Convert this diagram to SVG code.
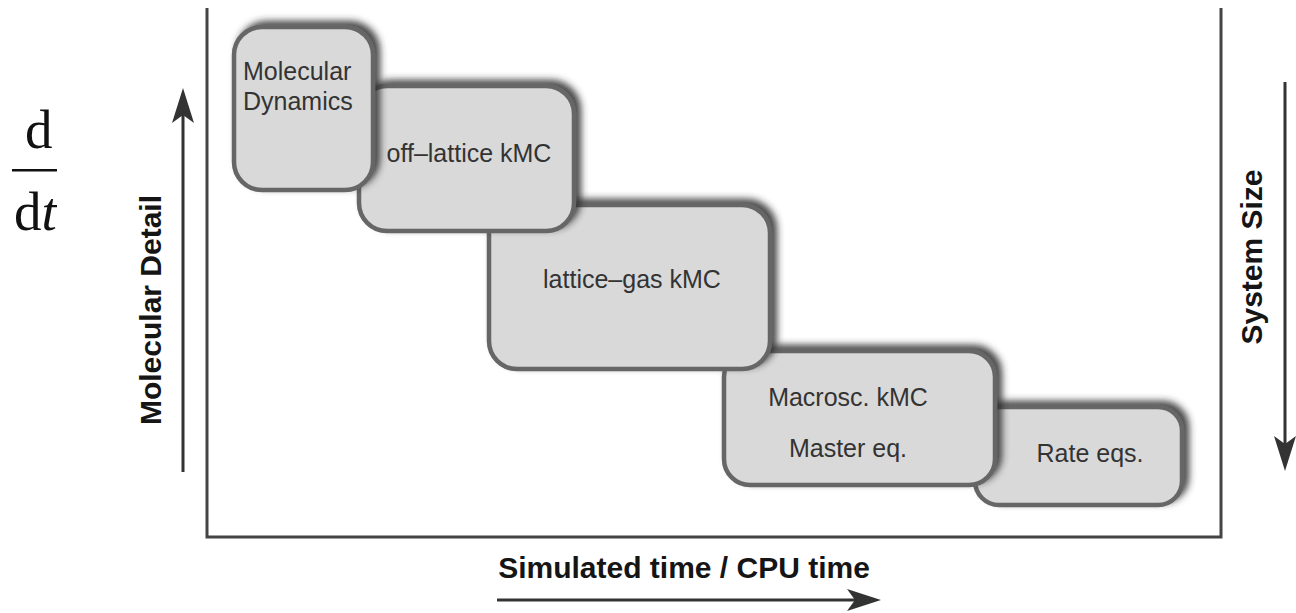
<svg xmlns="http://www.w3.org/2000/svg" width="1296" height="613" viewBox="0 0 1296 613">
<defs>
<filter id="sh" x="-20%" y="-20%" width="140%" height="140%">
<feOffset in="SourceAlpha" dx="5" dy="-4" result="o"/>
<feGaussianBlur in="o" stdDeviation="3.5" result="b"/>
<feFlood flood-color="#2a2a2a" flood-opacity="0.85"/>
<feComposite in2="b" operator="in" result="s"/>
<feMerge><feMergeNode in="s"/><feMergeNode in="SourceGraphic"/></feMerge>
</filter>
<clipPath id="edge"><rect x="0" y="0" width="57" height="613"/></clipPath>
</defs>
<style>
.box{fill:#d9d9d9;stroke:#666;stroke-width:4.5;filter:url(#sh)}
.lbl{font-family:"Liberation Sans",Arial,sans-serif;font-size:25px;fill:#333}
.ax{font-family:"Liberation Sans",Arial,sans-serif;font-size:30px;font-weight:bold;fill:#151515}
.frame{fill:none;stroke:#444;stroke-width:3}
.arr{stroke:#333;stroke-width:3;fill:none}
.head{fill:#333}
.math{font-family:"Liberation Serif","Times New Roman",serif;font-size:55px;fill:#111}
</style>
<g id="formula" clip-path="url(#edge)">
<text class="math" x="25" y="148">d</text>
<rect x="12" y="169" width="45" height="2.5" fill="#111"/>
<text class="math" x="14" y="230">d<tspan font-style="italic">t</tspan></text>
</g>
<g id="frame"><polyline class="frame" points="207,8 207,537 1221,537 1221,8"/></g>
<g id="node-rate">
<rect class="box" x="975" y="407" width="207" height="98" rx="24"/>
<text class="lbl" x="1090" y="462" text-anchor="middle">Rate eqs.</text>
</g>
<g id="node-macro">
<rect class="box" x="724" y="351" width="271" height="134" rx="26"/>
<text class="lbl" x="848" y="406" text-anchor="middle">Macrosc. kMC</text>
<text class="lbl" x="848" y="457" text-anchor="middle">Master eq.</text>
</g>
<g id="node-latticegas">
<rect class="box" x="489" y="205" width="281" height="164" rx="28"/>
<text class="lbl" x="632" y="288" text-anchor="middle">lattice–gas kMC</text>
</g>
<g id="node-offlattice">
<rect class="box" x="359" y="86" width="215" height="145" rx="28"/>
<text class="lbl" x="469" y="162" text-anchor="middle">off–lattice kMC</text>
</g>
<g id="node-md">
<rect class="box" x="234" y="27" width="139" height="163" rx="28"/>
<text class="lbl" x="243" y="80">Molecular</text>
<text class="lbl" x="243" y="110">Dynamics</text>
</g>
<g id="connectors">
<line class="arr" x1="183" y1="472" x2="183" y2="110"/>
<path class="head" d="M183,88 L194,123 L183,115 L172,123 Z"/>
<line class="arr" x1="1285" y1="82" x2="1285" y2="450"/>
<path class="head" d="M1285,471 L1274,436 L1285,444 L1296,436 Z"/>
<line class="arr" x1="497" y1="600" x2="862" y2="600"/>
<path class="head" d="M881,600 L847,589 L855,600 L847,611 Z"/>
</g>
<g id="axis-labels">
<text class="ax" transform="translate(161,310) rotate(-90)" text-anchor="middle">Molecular Detail</text>
<text class="ax" transform="translate(1262,257) rotate(-90)" text-anchor="middle">System Size</text>
<text class="ax" x="684" y="578" text-anchor="middle">Simulated time / CPU time</text>
</g>
</svg>
